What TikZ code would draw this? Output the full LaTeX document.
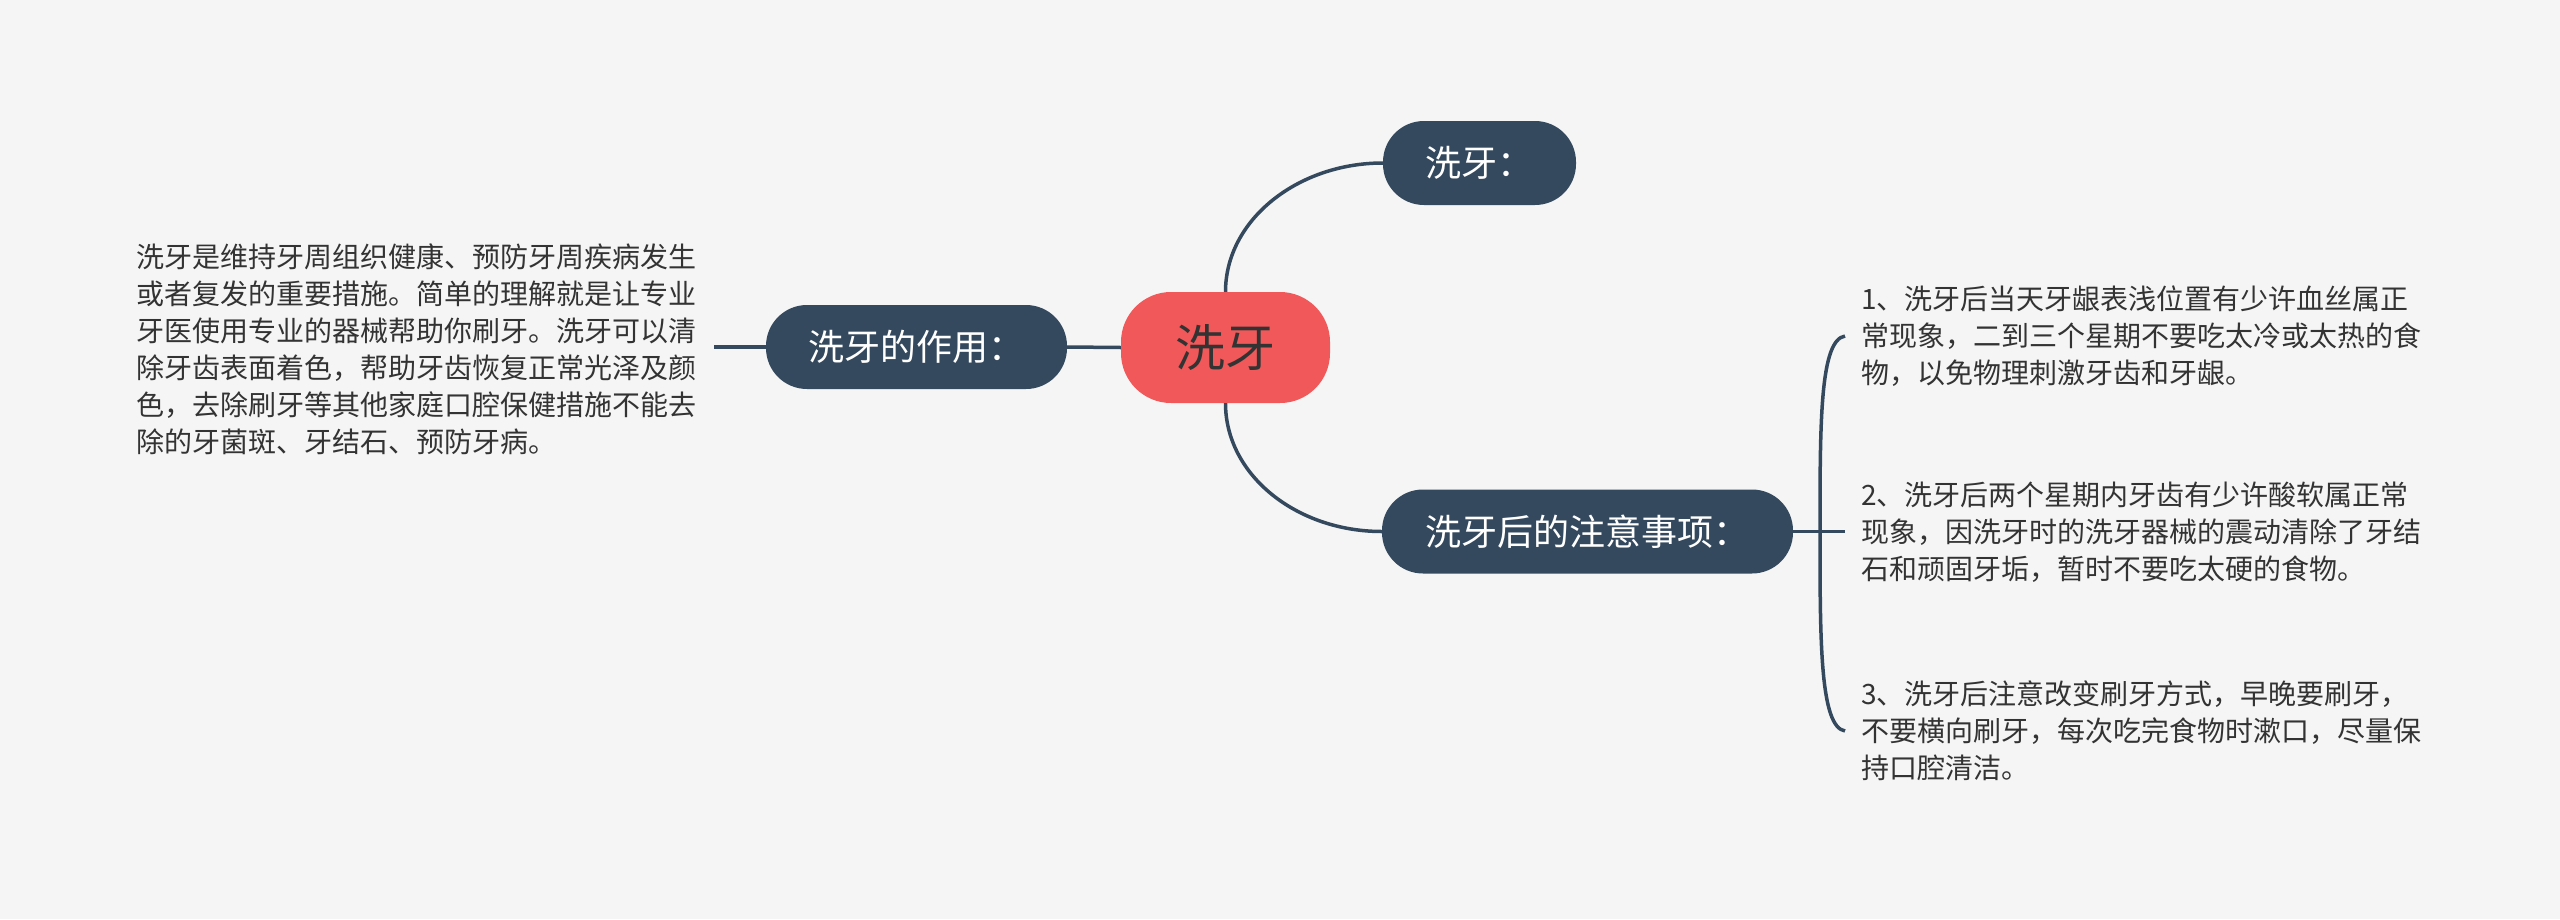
\documentclass[tikz,border=0pt]{standalone}
\usepackage{fontspec}
\newfontfamily\cjk{Noto Sans CJK SC}
\definecolor{bg}{HTML}{F5F5F5}
\definecolor{nodeblue}{HTML}{34495E}
\definecolor{rootred}{HTML}{F05859}
\definecolor{txt}{HTML}{333333}
\tikzset{
  conn/.style={draw=nodeblue, line width=3.5pt},
  topic/.style={fill=nodeblue, text=white, inner sep=0pt, minimum height=84pt,
    rounded corners=41pt, font={\cjk\fontsize{36pt}{42pt}\selectfont}},
  rootnode/.style={fill=rootred, text=txt, inner sep=0pt, minimum width=209pt,
    minimum height=111pt, rounded corners=50pt, font={\cjk\fontsize{50pt}{56pt}\selectfont}},
  body/.style={text=txt, align=left, inner ysep=0pt, font={\cjk\fontsize{28pt}{37pt}\selectfont}}
}
\begin{document}
\begin{tikzpicture}[x=1pt,y=-1pt]
\fill[bg] (0,0) rectangle (2560,919);
\useasboundingbox (0,0) rectangle (2560,919);

\node[rootnode] (root) at (1225.5,347.5) {洗牙};
\node[topic, minimum width=193pt] (xiya) at (1479.5,163) {洗牙：};
\node[topic, minimum width=301pt] (zuoyong) at (916.5,347) {洗牙的作用：};
\node[topic, minimum width=411pt] (zhuyi) at (1587.5,531.5) {洗牙后的注意事项：};

\node[body, inner xsep=18pt, anchor=west] (lt) at (118,349) {洗牙是维持牙周组织健康、预防牙周疾病发生\\或者复发的重要措施。简单的理解就是让专业\\牙医使用专业的器械帮助你刷牙。洗牙可以清\\除牙齿表面着色，帮助牙齿恢复正常光泽及颜\\色，去除刷牙等其他家庭口腔保健措施不能去\\除的牙菌斑、牙结石、预防牙病。};

\node[body, inner xsep=16pt, anchor=west] (t1) at (1845,336) {1、洗牙后当天牙龈表浅位置有少许血丝属正\\常现象，二到三个星期不要吃太冷或太热的食\\物，以免物理刺激牙齿和牙龈。};
\node[body, inner xsep=16pt, anchor=west] (t2) at (1845,532) {2、洗牙后两个星期内牙齿有少许酸软属正常\\现象，因洗牙时的洗牙器械的震动清除了牙结\\石和顽固牙垢，暂时不要吃太硬的食物。};
\node[body, inner xsep=16pt, anchor=west] (t3) at (1845,731) {3、洗牙后注意改变刷牙方式，早晚要刷牙，\\不要横向刷牙，每次吃完食物时漱口，尽量保\\持口腔清洁。};

\coordinate (bm) at ([xshift=-25pt]t2.west |- zhuyi.east);

\draw[conn] (root.west) -- (zuoyong.east);
\draw[conn] (zuoyong.west) -- (zuoyong.west -| lt.east);
\draw[conn] (root.north) .. controls +(0,-72) and +(-85,0) .. (xiya.west);
\draw[conn] (root.south) .. controls +(0,72) and +(-85,0) .. (zhuyi.west);
\draw[conn] (zhuyi.east) -- (zhuyi.east -| t2.west);
\draw[conn] (t1.west) .. controls +(-25,4) and +(0,-110) .. (bm) .. controls +(0,110) and +(-25,-4) .. (t3.west);
\end{tikzpicture}
\end{document}
